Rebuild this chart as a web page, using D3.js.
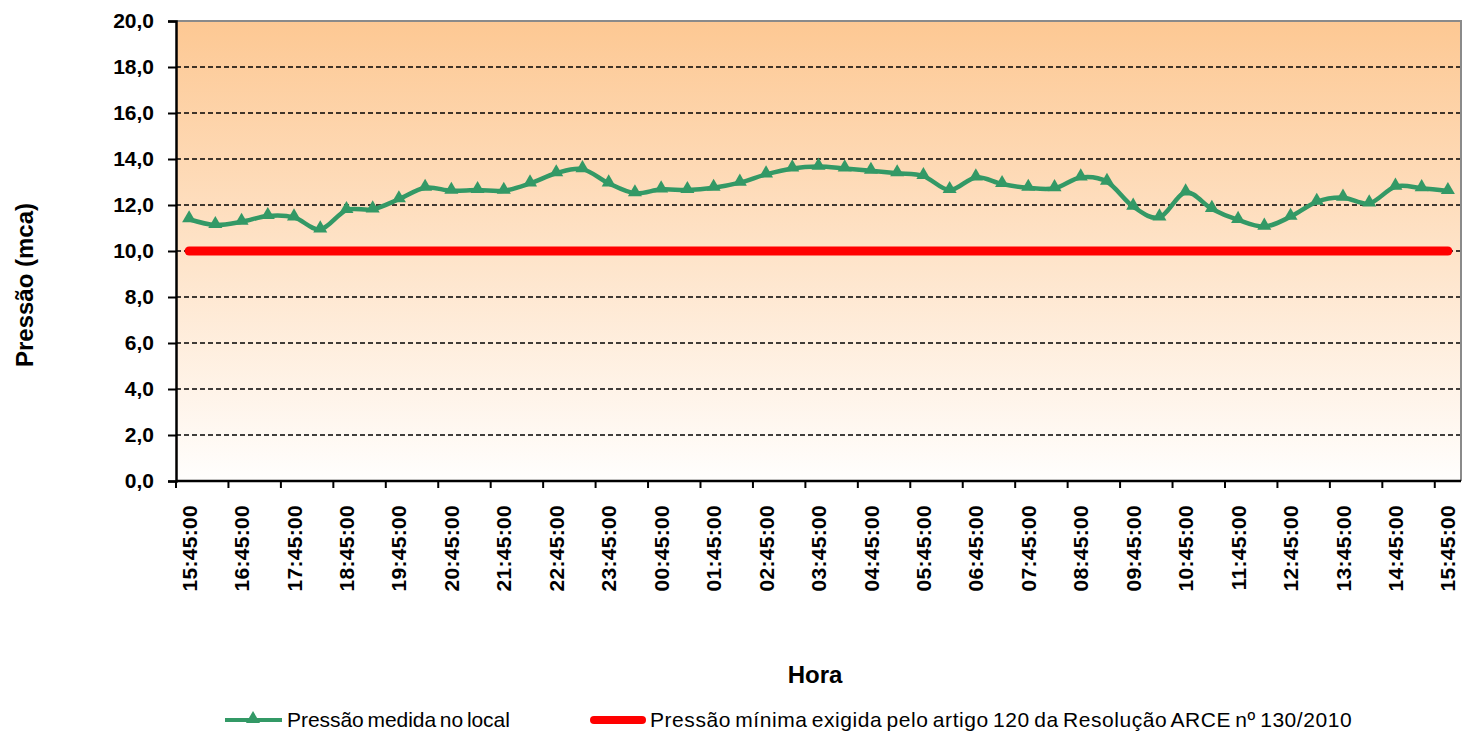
<!DOCTYPE html>
<html>
<head>
<meta charset="utf-8">
<script src="https://d3js.org/d3.v7.min.js"></script>
<style>
  body { margin: 0; background: #fff; }
  text { font-family: "Liberation Sans", Arial, sans-serif; }
</style>
</head>
<body>
<svg id="chart" width="1463" height="735"></svg>
<script>
// readings every 30 min (hourly ones get a label)
var horas = [
  "15:45:00", "16:15:00", "16:45:00", "17:15:00", "17:45:00", "18:15:00", "18:45:00",
  "19:15:00", "19:45:00", "20:15:00", "20:45:00", "21:15:00", "21:45:00", "22:15:00",
  "22:45:00", "23:15:00", "23:45:00", "00:15:00", "00:45:00", "01:15:00", "01:45:00",
  "02:15:00", "02:45:00", "03:15:00", "03:45:00", "04:15:00", "04:45:00", "05:15:00",
  "05:45:00", "06:15:00", "06:45:00", "07:15:00", "07:45:00", "08:15:00", "08:45:00",
  "09:15:00", "09:45:00", "10:15:00", "10:45:00", "11:15:00", "11:45:00", "12:15:00",
  "12:45:00", "13:15:00", "13:45:00", "14:15:00", "14:45:00", "15:15:00", "15:45:00b"
];
var pressao = [
  11.38, 11.13, 11.27, 11.52, 11.46, 10.94, 11.78, 11.81, 12.25, 12.75, 12.62, 12.65,
  12.62, 12.94, 13.38, 13.56, 12.94, 12.51, 12.68, 12.65, 12.75, 12.97, 13.33, 13.59,
  13.67, 13.59, 13.49, 13.38, 13.26, 12.65, 13.20, 12.91, 12.75, 12.73, 13.20, 13.01,
  11.93, 11.46, 12.55, 11.83, 11.35, 11.06, 11.49, 12.14, 12.32, 12.07, 12.80, 12.73, 12.61
];
var pressaoMinima = 10;
var yTicks = [0, 2, 4, 6, 8, 10, 12, 14, 16, 18, 20];
var nomeMedida = "Pressão medida no local";
var nomeMinima = "Pressão mínima exigida pelo artigo 120 da Resolução ARCE nº 130/2010";

var margin = { top: 21, right: 2, bottom: 254, left: 176 };
var width = 1463, height = 735;
var svg = d3.select("#chart");

var x = d3.scaleBand()
    .domain(horas)
    .range([margin.left, width - margin.right]);
var y = d3.scaleLinear()
    .domain([0, 20])
    .range([height - margin.bottom, margin.top]);

var cx = function(i) { return x(horas[i]) + x.bandwidth() / 2; };
var fmt = function(v) { return d3.format(".1f")(v).replace(".", ","); };

// background gradient
var defs = svg.append("defs");
var grad = defs.append("linearGradient")
    .attr("id", "bg").attr("x1", 0).attr("y1", 0).attr("x2", 0).attr("y2", 1);
grad.append("stop").attr("offset", "0%").attr("stop-color", "#fdc893");
grad.append("stop").attr("offset", "100%").attr("stop-color", "#fffefd");

svg.append("rect")
    .attr("x", margin.left).attr("y", y(20))
    .attr("width", x.range()[1] - margin.left)
    .attr("height", y(0) - y(20))
    .attr("fill", "url(#bg)");

// grid lines
svg.append("g")
  .selectAll("line")
  .data(yTicks.filter(function(d) { return d > 0 && d < 20; }))
  .join("line")
    .attr("x1", margin.left).attr("x2", x.range()[1])
    .attr("y1", function(d) { return y(d); })
    .attr("y2", function(d) { return y(d); })
    .attr("stroke", "#000")
    .attr("stroke-width", 1.5)
    .attr("stroke-dasharray", "5,3");

// grey frame top / right
svg.append("path")
    .attr("d", "M" + margin.left + "," + y(20) + "H" + x.range()[1] + "V" + y(0))
    .attr("fill", "none").attr("stroke", "#8a8a8a").attr("stroke-width", 2);

// red limit line
svg.append("line")
    .attr("x1", cx(0)).attr("x2", cx(horas.length - 1))
    .attr("y1", y(pressaoMinima)).attr("y2", y(pressaoMinima))
    .attr("stroke", "#ff0000").attr("stroke-width", 9)
    .attr("stroke-linecap", "round");

// measured pressure
var line = d3.line()
    .x(function(d, i) { return cx(i); })
    .y(function(d) { return y(d); })
    .curve(d3.curveCatmullRom.alpha(0));

svg.append("path")
    .datum(pressao)
    .attr("d", line)
    .attr("fill", "none")
    .attr("stroke", "#339966")
    .attr("stroke-width", 4.5);

var tri = d3.symbol().type(d3.symbolTriangle).size(85);
svg.append("g")
  .selectAll("path")
  .data(pressao)
  .join("path")
    .attr("d", tri)
    .attr("transform", function(d, i) { return "translate(" + cx(i) + "," + (y(d) - 1) + ")"; })
    .attr("fill", "#339966");

// y axis
var yAxis = svg.append("g")
    .attr("transform", "translate(" + margin.left + ",0)")
    .call(d3.axisLeft(y).tickValues(yTicks).tickFormat(fmt).tickSize(8).tickPadding(14));
yAxis.select(".domain").attr("stroke-width", 2.5);
yAxis.selectAll(".tick line").attr("stroke-width", 2);
yAxis.selectAll("text")
    .attr("font-size", 21).attr("font-weight", "bold")
    .attr("font-family", "Liberation Sans, Arial, sans-serif");

// x axis: ticks on category boundaries every 2 categories, labels on even categories
var xAxisG = svg.append("g");
xAxisG.append("line")
    .attr("x1", margin.left).attr("x2", x.range()[1])
    .attr("y1", y(0)).attr("y2", y(0))
    .attr("stroke", "#000").attr("stroke-width", 2.5);

var labelIdx = d3.range(0, horas.length, 2);
xAxisG.selectAll(".xtick")
  .data(labelIdx)
  .join("line")
    .attr("class", "xtick")
    .attr("x1", function(i) { return x(horas[i]); })
    .attr("x2", function(i) { return x(horas[i]); })
    .attr("y1", y(0)).attr("y2", y(0) + 7)
    .attr("stroke", "#000").attr("stroke-width", 2);

xAxisG.selectAll(".xlab")
  .data(labelIdx)
  .join("text")
    .attr("class", "xlab")
    .attr("transform", function(i) { return "translate(" + cx(i) + "," + (y(0) + 24) + ") rotate(-90)"; })
    .attr("dy", "0.36em")
    .attr("text-anchor", "end")
    .attr("font-size", 21).attr("font-weight", "bold")
    .attr("letter-spacing", 0.3)
    .text(function(i) { return horas[i].replace("b", ""); });

// axis titles
svg.append("text")
    .attr("transform", "translate(33,285) rotate(-90)")
    .attr("text-anchor", "middle")
    .attr("font-size", 24).attr("font-weight", "bold")
    .text("Pressão (mca)");

svg.append("text")
    .attr("x", 815).attr("y", 683)
    .attr("text-anchor", "middle")
    .attr("font-size", 24).attr("font-weight", "bold")
    .text("Hora");

// legend
var legY = 720;
var leg = svg.append("g");
leg.append("line")
    .attr("x1", 225).attr("x2", 282).attr("y1", legY).attr("y2", legY)
    .attr("stroke", "#339966").attr("stroke-width", 4);
leg.append("path")
    .attr("d", tri)
    .attr("transform", "translate(253," + (legY - 1) + ")")
    .attr("fill", "#339966");
leg.append("text")
    .attr("x", 287).attr("y", legY + 7)
    .attr("font-size", 21)
    .attr("word-spacing", -2)
    .attr("letter-spacing", -0.05)
    .text(nomeMedida);

leg.append("line")
    .attr("x1", 594).attr("x2", 642).attr("y1", legY).attr("y2", legY)
    .attr("stroke", "#ff0000").attr("stroke-width", 8)
    .attr("stroke-linecap", "round");
leg.append("text")
    .attr("x", 650).attr("y", legY + 7)
    .attr("font-size", 21)
    .attr("word-spacing", -2)
    .attr("letter-spacing", 0.55)
    .text(nomeMinima);
</script>
</body>
</html>
